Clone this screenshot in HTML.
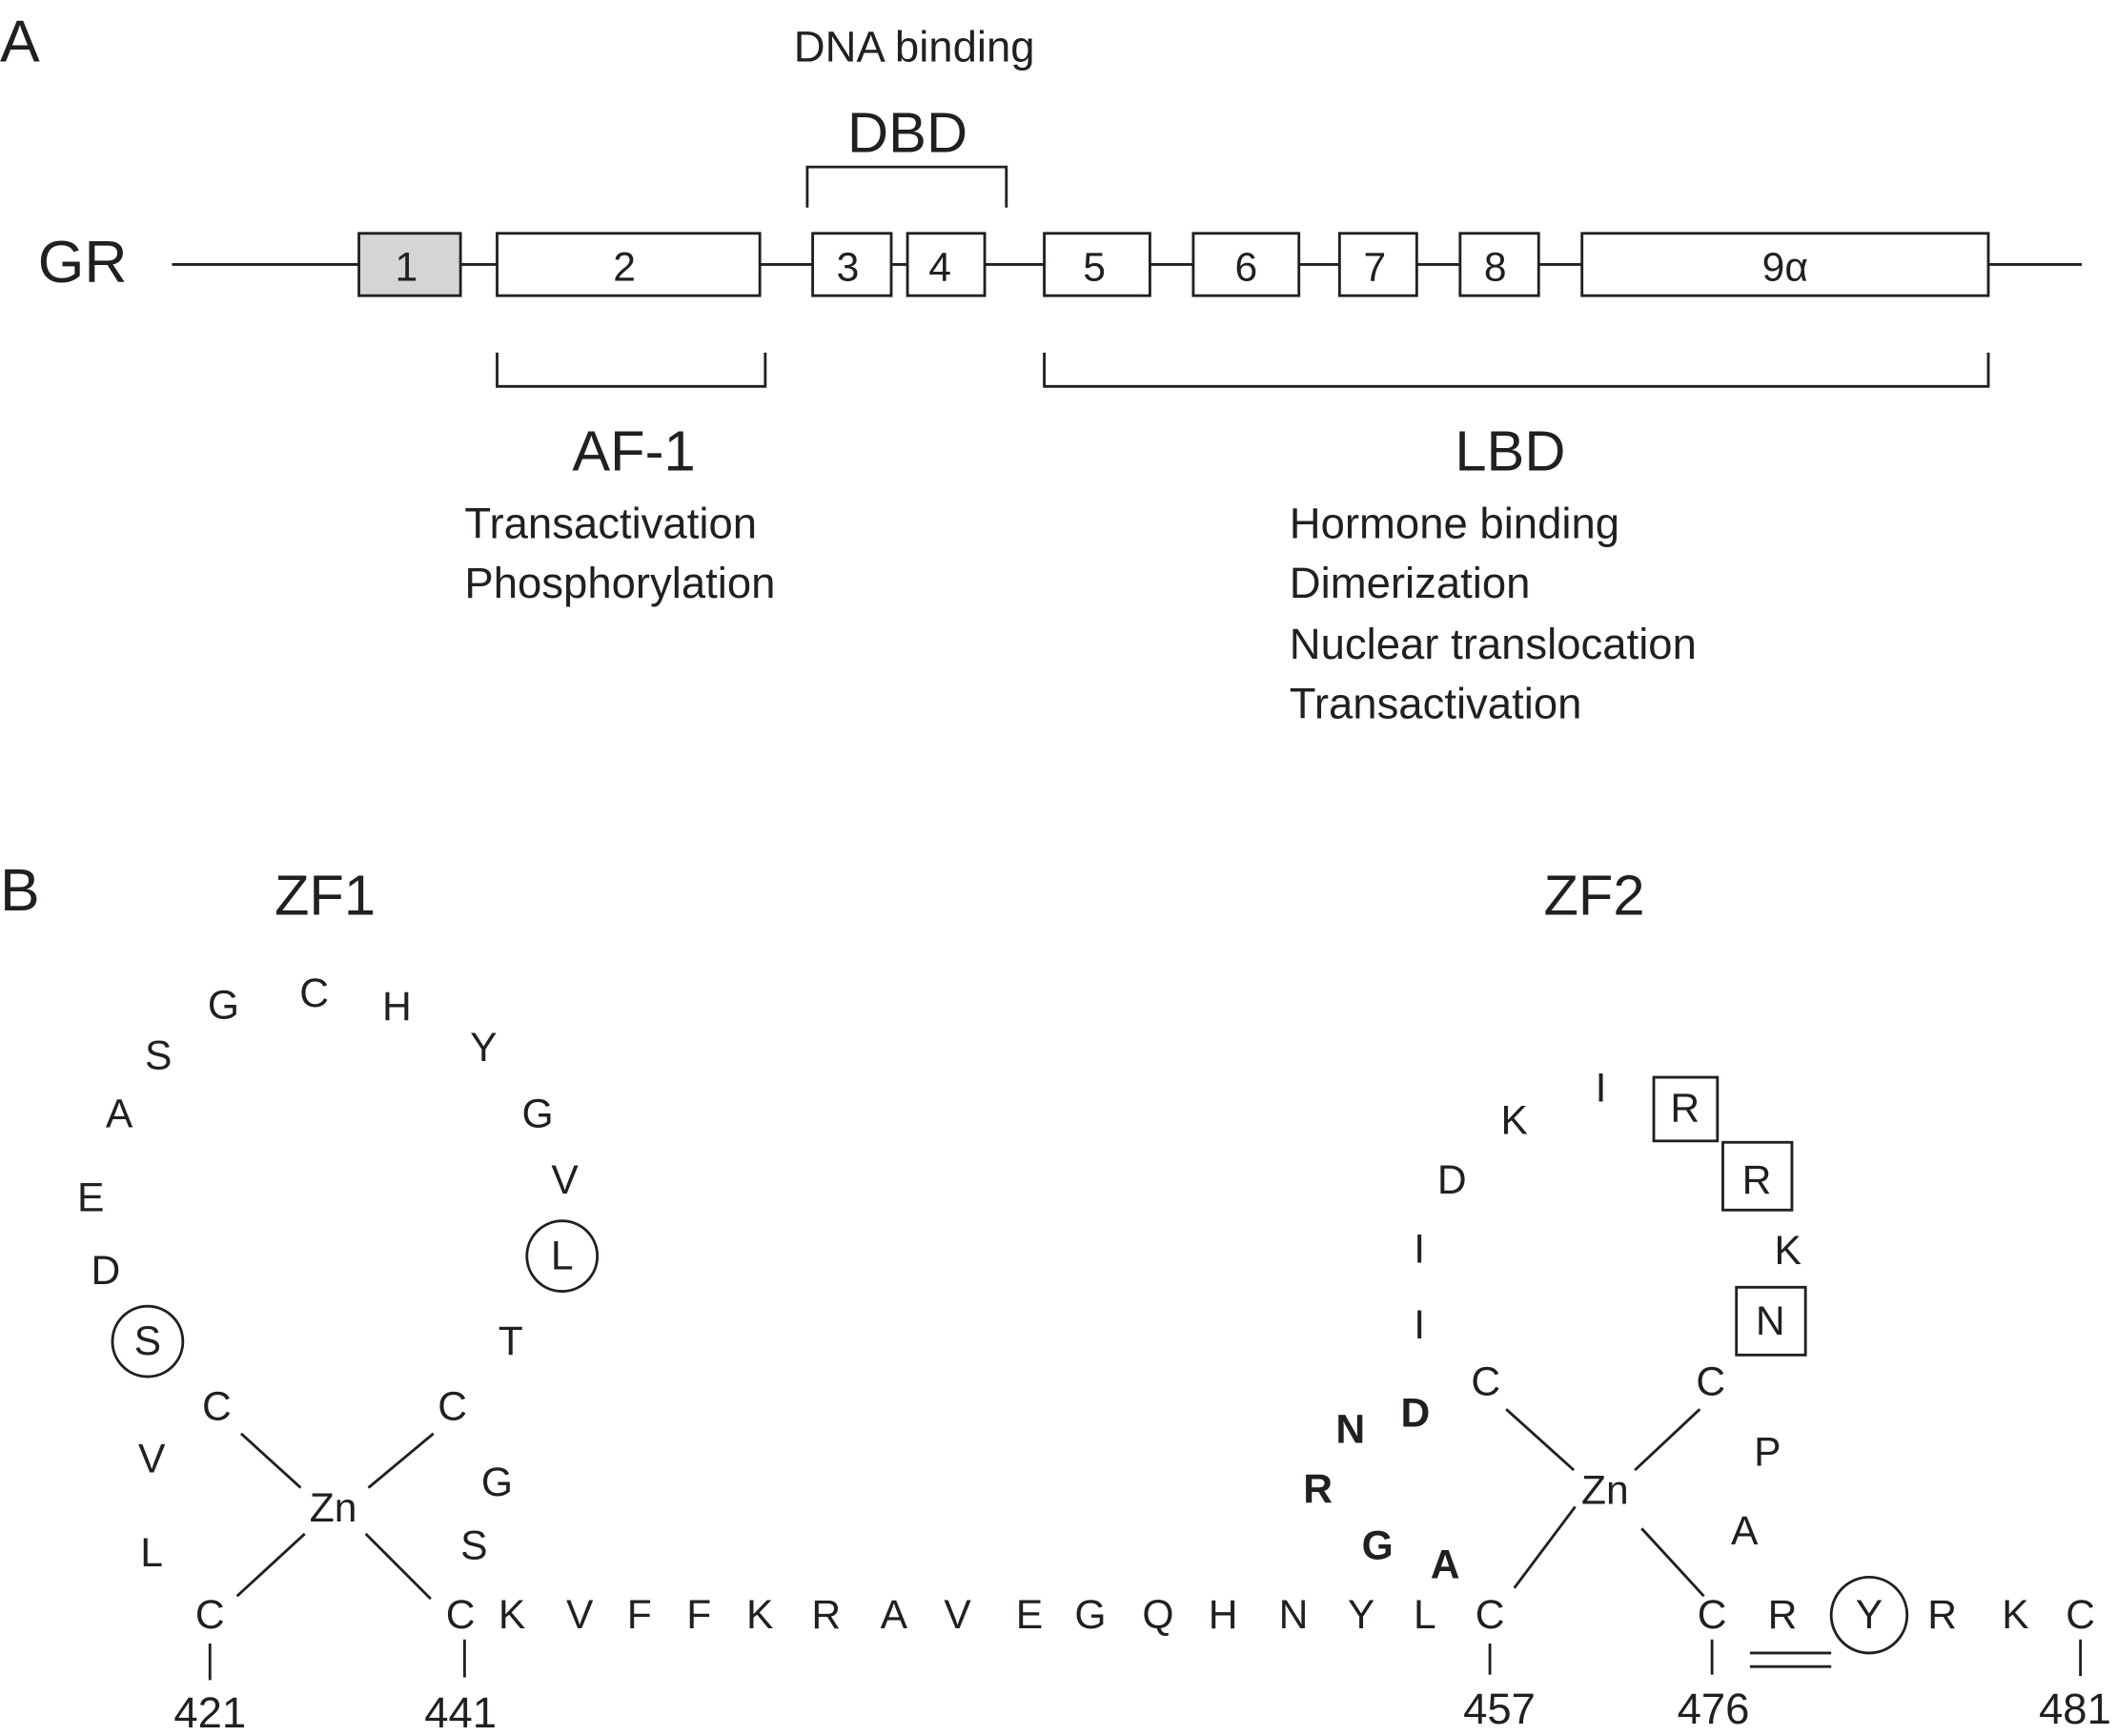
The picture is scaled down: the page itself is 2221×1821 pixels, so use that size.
<!DOCTYPE html>
<html><head><meta charset="utf-8"><style>
html,body{margin:0;padding:0;background:#fff;}
svg{display:block;}
text{font-family:"Liberation Sans",sans-serif;fill:#231f20;}
</style></head><body>
<svg width="2221" height="1821" viewBox="0 0 1563 1281" xmlns="http://www.w3.org/2000/svg">
<g stroke="#231f20" stroke-width="2" fill="none">
<line x1="127" y1="195" x2="1537" y2="195"/>
<rect x="265" y="172" width="75" height="46" fill="#d4d5d6"/>
<rect x="367" y="172" width="194" height="46" fill="#fff"/>
<rect x="600" y="172" width="58" height="46" fill="#fff"/>
<rect x="670" y="172" width="57" height="46" fill="#fff"/>
<rect x="771" y="172" width="78" height="46" fill="#fff"/>
<rect x="881" y="172" width="78" height="46" fill="#fff"/>
<rect x="989" y="172" width="57" height="46" fill="#fff"/>
<rect x="1078" y="172" width="58" height="46" fill="#fff"/>
<rect x="1168" y="172" width="300" height="46" fill="#fff"/>
<polyline points="596,153 596,123 743,123 743,153"/>
<polyline points="367,260 367,285 565,285 565,260"/>
<polyline points="771,260 771,285 1468,285 1468,260"/>
<circle cx="415" cy="927" r="26"/>
<circle cx="109" cy="990" r="26"/>
<circle cx="1380" cy="1192" r="28"/>
<rect x="1221" y="795" width="47" height="47"/>
<rect x="1272" y="843" width="51" height="50"/>
<rect x="1282" y="950" width="51" height="50"/>
<line x1="178" y1="1058" x2="222" y2="1098"/>
<line x1="320" y1="1058" x2="272" y2="1098"/>
<line x1="175" y1="1178" x2="225" y2="1132"/>
<line x1="318" y1="1180" x2="270" y2="1132"/>
<line x1="1112" y1="1040" x2="1162" y2="1085"/>
<line x1="1255" y1="1040" x2="1207" y2="1085"/>
<line x1="1118" y1="1172" x2="1163" y2="1112"/>
<line x1="1258" y1="1178" x2="1212" y2="1128"/>
<line x1="155" y1="1213" x2="155" y2="1240"/>
<line x1="343" y1="1210" x2="343" y2="1238"/>
<line x1="1100" y1="1213" x2="1100" y2="1236"/>
<line x1="1264" y1="1210" x2="1264" y2="1236"/>
<line x1="1536" y1="1210" x2="1536" y2="1237"/>
<line x1="1292" y1="1220" x2="1352" y2="1220"/>
<line x1="1292" y1="1230" x2="1352" y2="1230"/>
</g>
<g font-size="30" text-anchor="middle">
<text x="300" y="207">1</text><text x="461" y="207">2</text><text x="626" y="207">3</text>
<text x="694" y="207">4</text><text x="808" y="207">5</text><text x="920" y="207">6</text>
<text x="1015" y="207">7</text><text x="1104" y="207">8</text><text x="1318" y="207">9α</text>
</g>
<text x="0" y="45" font-size="44">A</text>
<text x="0" y="672" font-size="44">B</text>
<text x="28" y="208" font-size="44">GR</text>
<text x="675" y="45" font-size="32" text-anchor="middle">DNA binding</text>
<text x="670" y="112" font-size="42" text-anchor="middle">DBD</text>
<text x="468" y="347" font-size="42" text-anchor="middle">AF-1</text>
<text x="1115" y="347" font-size="42" text-anchor="middle">LBD</text>
<g font-size="32">
<text x="343" y="397">Transactivation</text><text x="343" y="441">Phosphorylation</text>
<text x="952" y="397">Hormone binding</text><text x="952" y="441">Dimerization</text>
<text x="952" y="486">Nuclear translocation</text><text x="952" y="530">Transactivation</text>
</g>
<text x="240" y="675" font-size="42" text-anchor="middle">ZF1</text>
<text x="1177" y="675" font-size="42" text-anchor="middle">ZF2</text>
<g font-size="30" text-anchor="middle" dominant-baseline="central">
<text x="165" y="742">G</text><text x="232" y="733">C</text><text x="293" y="743">H</text>
<text x="117" y="779">S</text><text x="357" y="773">Y</text><text x="88" y="822">A</text>
<text x="397" y="822">G</text><text x="67" y="884">E</text><text x="417" y="871">V</text>
<text x="415" y="927">L</text><text x="78" y="938">D</text><text x="109" y="990">S</text>
<text x="377" y="990">T</text><text x="160" y="1038">C</text><text x="334" y="1038">C</text>
<text x="112" y="1077">V</text><text x="367" y="1094">G</text><text x="246" y="1113">Zn</text>
<text x="112" y="1146">L</text><text x="350" y="1141">S</text><text x="155" y="1192">C</text>
<text x="340" y="1192">C</text>
<text x="378" y="1192">K</text><text x="428" y="1192">V</text><text x="472" y="1192">F</text>
<text x="516" y="1192">F</text><text x="561" y="1192">K</text><text x="610" y="1192">R</text>
<text x="660" y="1192">A</text><text x="707" y="1192">V</text><text x="760" y="1192">E</text>
<text x="805" y="1192">G</text><text x="855" y="1192">Q</text><text x="903" y="1192">H</text>
<text x="955" y="1192">N</text><text x="1005" y="1192">Y</text><text x="1052" y="1192">L</text>
<text x="1100" y="1192">C</text><text x="1264" y="1192">C</text><text x="1316" y="1192">R</text>
<text x="1380" y="1192">Y</text><text x="1434" y="1192">R</text><text x="1488" y="1192">K</text>
<text x="1536" y="1192">C</text>
<text x="997" y="1055" font-weight="bold">N</text><text x="1045" y="1043" font-weight="bold">D</text>
<text x="973" y="1099" font-weight="bold">R</text><text x="1017" y="1141" font-weight="bold">G</text>
<text x="1067" y="1155" font-weight="bold">A</text>
<text x="1097" y="1020">C</text><text x="1263" y="1020">C</text><text x="1185" y="1100">Zn</text>
<text x="1305" y="1072">P</text><text x="1288" y="1130">A</text>
<text x="1048" y="922">I</text><text x="1048" y="978">I</text><text x="1072" y="871">D</text>
<text x="1118" y="827">K</text><text x="1182" y="803">I</text><text x="1244" y="818">R</text>
<text x="1297" y="871">R</text><text x="1320" y="923">K</text><text x="1307" y="975">N</text>
</g>
<g font-size="32" text-anchor="middle">
<text x="155" y="1275">421</text><text x="340" y="1275">441</text>
<text x="1107" y="1272">457</text><text x="1265" y="1272">476</text><text x="1532" y="1272">481</text>
</g>
</svg>
</body></html>
